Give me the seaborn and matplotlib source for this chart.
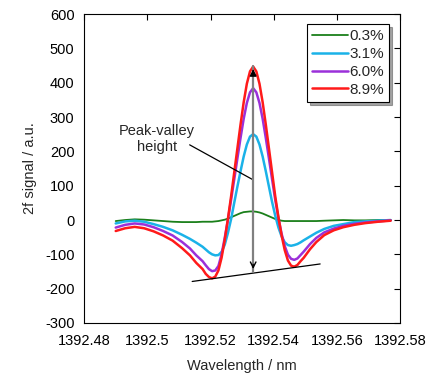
import numpy as np
import pandas as pd
import seaborn as sns
import matplotlib.pyplot as plt

# wavelength grid (nm)
wavelength = [1392.490, 1392.493, 1392.496, 1392.499, 1392.502, 1392.505, 1392.508,
              1392.511, 1392.5135, 1392.5155,
              1392.5175, 1392.5185, 1392.5195, 1392.5205, 1392.5215, 1392.5225, 1392.5235,
              1392.5245, 1392.5255, 1392.5265, 1392.5275, 1392.5285, 1392.5295, 1392.5305,
              1392.5315, 1392.5325, 1392.5335, 1392.5345, 1392.5355, 1392.5365, 1392.5375,
              1392.5385, 1392.5395, 1392.5405, 1392.5415, 1392.5425, 1392.5435, 1392.5445,
              1392.5455, 1392.5465, 1392.5475, 1392.5485, 1392.5495,
              1392.5515, 1392.5535, 1392.556, 1392.559, 1392.562, 1392.5655, 1392.569,
              1392.573, 1392.577]

sig_03 = [-3, 0, 2, 1, -1, -3, -5, -6, -6, -6,
          -5, -5, -5, -5, -4, -3, -1, 1, 4, 8, 12, 16, 20, 23, 24, 25, 25,
          24, 22, 19, 15, 11, 7, 3, 0, -2, -3, -3, -3, -3, -3, -3, -3,
          -3, -3, -2, -1, 0, -1, -1, 0, 0]

sig_31 = [-10, -4, -2, -5, -12, -20, -30, -43, -55, -66,
          -78, -86, -94, -100, -103, -102, -93, -72, -38, 2, 50, 97, 142, 185, 220, 243, 250,
          243, 220, 185, 142, 97, 52, 12, -22, -48, -65, -73, -75, -73, -70, -65, -59,
          -48, -37, -26, -17, -12, -6, -4, -2, 0]

sig_60 = [-22, -14, -10, -13, -21, -32, -45, -64, -83, -103,
          -120, -132, -143, -149, -147, -134, -100, -52, 0, 58, 118, 179, 239, 295, 341, 372, 384,
          372, 341, 295, 239, 179, 118, 58, 5, -40, -76, -101, -113, -116, -112, -102, -92,
          -70, -52, -36, -25, -17, -11, -7, -4, -1]

sig_89 = [-32, -24, -20, -24, -33, -45, -60, -82, -103, -125,
          -143, -157, -166, -170, -165, -147, -110, -58, 3, 68, 138, 208, 278, 343, 397, 433, 447,
          433, 397, 343, 278, 208, 138, 68, 8, -45, -88, -118, -133, -136, -131, -120, -110,
          -85, -64, -44, -30, -21, -14, -9, -5, -2]

labels = ['0.3%', '3.1%', '6.0%', '8.9%']
colors = ['#1a7f1a', '#1ab2e8', '#9b30d9', '#ff1a1a']
widths = [1.3, 1.8, 1.8, 1.8]

x_ticks = [1392.48, 1392.5, 1392.52, 1392.54, 1392.56, 1392.58]
x_tick_labels = ['1392.48', '1392.5', '1392.52', '1392.54', '1392.56', '1392.58']
y_ticks = [-300, -200, -100, 0, 100, 200, 300, 400, 500, 600]

# peak-valley annotation
peak_x, peak_y, valley_y = 1392.5335, 448, -151
base_x = [1392.5142, 1392.5547]
base_y = [-179, -128]

df = pd.DataFrame({'wavelength': wavelength, '0.3%': sig_03, '3.1%': sig_31,
                   '6.0%': sig_60, '8.9%': sig_89})
df = df.melt(id_vars='wavelength', var_name='conc', value_name='signal')

sns.set_style('white')
plt.rcParams['font.family'] = ['Liberation Sans', 'DejaVu Sans']
plt.rcParams['axes.unicode_minus'] = False

fig, ax = plt.subplots(figsize=(4.27, 3.8), dpi=100)
fig.subplots_adjust(left=0.197, right=0.937, top=0.963, bottom=0.15)

for lab, col, lw in zip(labels, colors, widths):
    sns.lineplot(data=df[df['conc'] == lab], x='wavelength', y='signal',
                 color=col, linewidth=lw, label=lab, ax=ax)

# arrow and guide lines
ax.plot([peak_x, peak_x], [valley_y, peak_y], color='#808080', lw=1.6, zorder=5)
ax.annotate('', xy=(peak_x, peak_y), xytext=(peak_x, peak_y - 30),
            arrowprops=dict(arrowstyle='-|>', color='black', lw=1, mutation_scale=10), zorder=6)
ax.annotate('', xy=(peak_x, valley_y), xytext=(peak_x, valley_y + 30),
            arrowprops=dict(arrowstyle='->', color='black', lw=1, mutation_scale=10), zorder=6)
ax.plot(base_x, base_y, color='black', lw=0.9)
ax.plot([1392.5134, peak_x], [219, 117], color='black', lw=0.9)
ax.text(1392.503, 236, 'Peak-valley\nheight', ha='center', va='center',
        fontsize=10.5, linespacing=1.2)

ax.set_xlim(1392.48, 1392.58)
ax.set_ylim(-300, 600)
ax.set_xticks(x_ticks)
ax.set_xticklabels(x_tick_labels)
ax.set_yticks(y_ticks)
ax.tick_params(direction='in', length=4, width=0.8, top=True, right=True,
               labelsize=10.5, colors='black', pad=7)
ax.tick_params(axis='x', pad=8)
for s in ax.spines.values():
    s.set_color('black')
    s.set_linewidth(0.8)

ax.set_xlabel('Wavelength / nm', fontsize=10.5, labelpad=8)
ax.set_ylabel('2f signal / a.u.', fontsize=10.5, labelpad=6)

leg = ax.legend(loc='upper right', bbox_to_anchor=(0.965, 0.968), borderaxespad=0,
                fontsize=11, frameon=True, fancybox=False, shadow=True,
                handlelength=2.3, handletextpad=0.1, labelspacing=0.25,
                borderpad=0.35)
leg.get_frame().set_edgecolor('black')
leg.get_frame().set_linewidth(0.8)

plt.savefig('out.png', dpi=100)
